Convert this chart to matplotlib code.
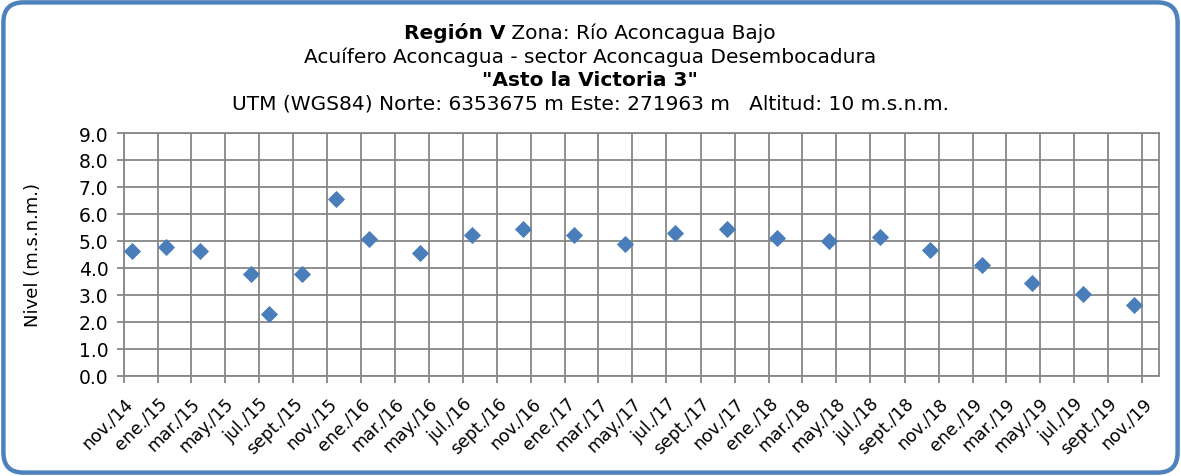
import matplotlib
matplotlib.use("Agg")
import matplotlib.pyplot as plt
from matplotlib.patches import FancyBboxPatch
import pandas as pd

# ---------------- data ----------------
dates = ["2014-11-16", "2015-01-15", "2015-03-17", "2015-06-17", "2015-07-19",
         "2015-09-16", "2015-11-16", "2016-01-15", "2016-04-16", "2016-07-17",
         "2016-10-16", "2017-01-16", "2017-04-17", "2017-07-17", "2017-10-17",
         "2018-01-16", "2018-04-18", "2018-07-18", "2018-10-17", "2019-01-17",
         "2019-04-18", "2019-07-18", "2019-10-18"]
values = [4.61, 4.78, 4.63, 3.77, 2.28, 3.76, 6.54, 5.07, 4.56, 5.22,
          5.45, 5.22, 4.87, 5.28, 5.44, 5.10, 5.01, 5.14, 4.67, 4.12,
          3.45, 3.02, 2.61]
tick_labels = ["nov./14", "ene./15", "mar./15", "may./15", "jul./15", "sept./15",
               "nov./15", "ene./16", "mar./16", "may./16", "jul./16", "sept./16",
               "nov./16", "ene./17", "mar./17", "may./17", "jul./17", "sept./17",
               "nov./17", "ene./18", "mar./18", "may./18", "jul./18", "sept./18",
               "nov./18", "ene./19", "mar./19", "may./19", "jul./19", "sept./19",
               "nov./19"]
y_ticks = [0.0, 1.0, 2.0, 3.0, 4.0, 5.0, 6.0, 7.0, 8.0, 9.0]

title_bold = "Región V"
title_rest = " Zona: Río Aconcagua Bajo"
title_line2 = "Acuífero Aconcagua - sector Aconcagua Desembocadura"
title_line3 = "\"Asto la Victoria 3\""
title_line4 = "UTM (WGS84) Norte: 6353675 m Este: 271963 m   Altitud: 10 m.s.n.m."
y_label = "Nivel (m.s.n.m.)"

# ---------------- figure ----------------
W, H = 1181, 477
plt.rcParams['font.family'] = ['DejaVu Sans']
fig = plt.figure(figsize=(W / 100, H / 100), dpi=100, facecolor='white')

left, right, top, bottom = 123.7, 1159, 134, 376.7
ax = fig.add_axes([left / W, 1 - bottom / H, (right - left) / W, (bottom - top) / H])
ax.set_facecolor('white')

x = pd.to_datetime(dates)
ax.plot(x, values, linestyle='none', marker='D', markersize=8.6,
        markeredgewidth=0.6, color='#4A7EBB', markeredgecolor='#4A7EBB',
        zorder=3, clip_on=False)

tick_pos = pd.date_range(start="2014-11-01", periods=len(tick_labels), freq="2MS")
ax.set_xticks(tick_pos)
ax.set_xticklabels(tick_labels, rotation=45, ha='right', va='top',
                   rotation_mode='anchor', fontsize=12.5)
ax.set_xlim(pd.Timestamp("2014-11-01"), pd.Timestamp("2019-12-01"))

ax.set_yticks(y_ticks)
ax.set_yticklabels([f"{v:.1f}" for v in y_ticks], fontsize=13.5)
ax.set_ylim(0, 9)

grid_c = '#878787'
ax.grid(True, color=grid_c, linewidth=1.3)
ax.set_axisbelow(True)
for s in ax.spines.values():
    s.set_color(grid_c)
    s.set_linewidth(1.3)
ax.tick_params(axis='both', direction='out', length=5, width=1.3, color=grid_c,
               labelcolor='black')
ax.tick_params(axis='y', pad=6)
ax.tick_params(axis='x', pad=8)

fig.text(33 / W, 1 - 255 / H, y_label, rotation=90, ha='center', va='center',
         fontsize=13)

# titles
cx = 590
fs = 14.5
renderer = fig.canvas.get_renderer()
t1 = fig.text(0, 1 - 33 / H, title_bold, fontsize=fs, fontweight='bold',
              ha='left', va='center')
t2 = fig.text(0, 1 - 33 / H, title_rest, fontsize=fs, ha='left', va='center')
w1 = t1.get_window_extent(renderer).width
w2 = t2.get_window_extent(renderer).width
start = cx - (w1 + w2) / 2
t1.set_x(start / W)
t2.set_x((start + w1) / W)

fig.text(cx / W, 1 - 57 / H, title_line2, fontsize=fs, ha='center', va='center')
fig.text(cx / W, 1 - 80 / H, title_line3, fontsize=fs, fontweight='bold',
         ha='center', va='center')
fig.text(cx / W, 1 - 104 / H, title_line4, fontsize=fs, ha='center', va='center')

# rounded border
border = FancyBboxPatch((3.4 / W, 3.4 / H), (W - 6.8) / W, (H - 6.8) / H,
                        boxstyle="round,pad=0,rounding_size=0.017",
                        transform=fig.transFigure, facecolor='none',
                        edgecolor='#4F81BD', linewidth=3.2,
                        mutation_aspect=W / H, zorder=10)
fig.add_artist(border)

fig.savefig("out.png", dpi=100)
